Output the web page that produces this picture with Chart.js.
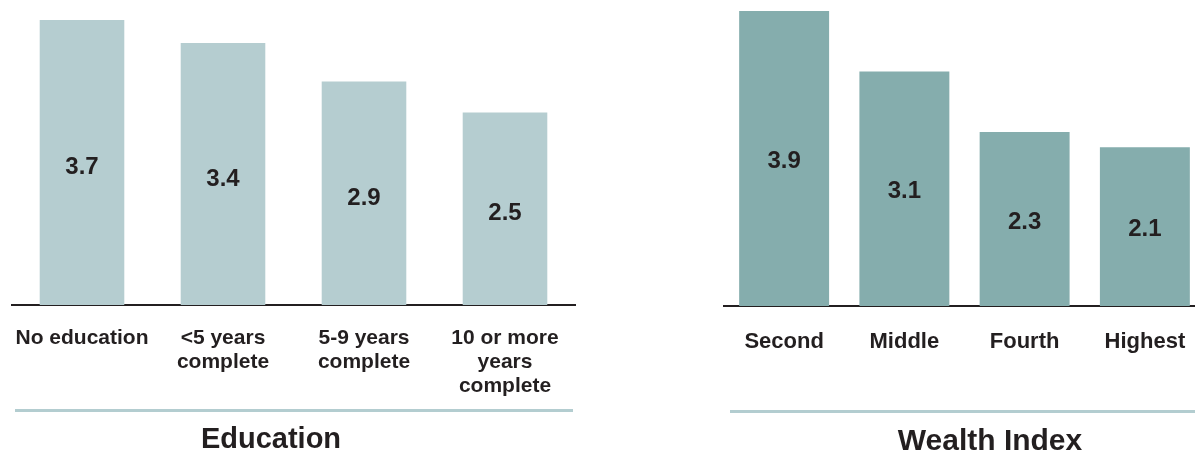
<!DOCTYPE html>
<html>
<head>
  <meta charset="utf-8">
  <title>Education and Wealth Index</title>
  <script src="https://cdn.jsdelivr.net/npm/chart.js@4"></script>
  <style>
    html, body { margin: 0; padding: 0; background: #fff; overflow: hidden; width: 1195px; height: 455px; }
    .panel { position: absolute; top: 0; }
    .rule { position: absolute; height: 3px; background: #b3cdd0; }
    .title { position: absolute; text-align: center; font-family: "Liberation Sans", Arial, sans-serif; font-weight: bold; color: #231f20; line-height: 30px; }
  </style>
</head>
<body>
  <div class="panel" style="left:0"><canvas id="eduChart" width="590" height="455"></canvas></div>
  <div class="panel" style="left:700px"><canvas id="wealthChart" width="510" height="455"></canvas></div>

  <div class="rule" style="left:15px; width:558px; top:409px"></div>
  <div class="rule" style="left:730px; width:465px; top:410px"></div>
  <div class="title" style="left:121px; width:300px; top:423px; font-size:29px">Education</div>
  <div class="title" style="left:840px; width:300px; top:425px; font-size:30px">Wealth Index</div>

  <script>
    const FONT = '"Liberation Sans", Arial, sans-serif';
    const INK = '#231f20';

    // left panel
    const eduLabels = ['No education', ['<5 years', 'complete'], ['5-9 years', 'complete'], ['10 or more', 'years', 'complete']];
    const eduValues = [3.7, 3.4, 2.9, 2.5];

    // right panel
    const wealthLabels = ['Second', 'Middle', 'Fourth', 'Highest'];
    const wealthValues = [3.9, 3.1, 2.3, 2.1];

    // value printed in the middle of each bar
    const valueLabels = {
      id: 'valueLabels',
      afterDatasetsDraw(chart, args, opts) {
        const { ctx } = chart;
        const values = chart.data.datasets[0].data;
        ctx.save();
        ctx.font = `bold ${opts.size}px ${FONT}`;
        ctx.fillStyle = INK;
        ctx.textAlign = 'center';
        ctx.textBaseline = 'middle';
        chart.getDatasetMeta(0).data.forEach((bar, i) => {
          ctx.fillText(values[i].toFixed(1), bar.x, (bar.y + bar.base) / 2 + opts.dy);
        });
        ctx.restore();
      }
    };

    const makeChart = (id, labels, values, cfg) => new Chart(document.getElementById(id), {
      type: 'bar',
      data: {
        labels,
        datasets: [{
          data: values,
          backgroundColor: cfg.color,
          categoryPercentage: 1,
          barPercentage: cfg.barPct
        }]
      },
      options: {
        responsive: false,
        animation: false,
        layout: { padding: cfg.padding },
        plugins: {
          legend: { display: false },
          tooltip: { enabled: false },
          valueLabels: { size: cfg.valueSize, dy: cfg.valueDy }
        },
        scales: {
          x: {
            grid: { display: false, drawTicks: false },
            border: { display: true, color: INK, width: 2 },
            ticks: {
              color: INK,
              padding: cfg.tickPad,
              maxRotation: 0,
              autoSkip: false,
              font: { family: FONT, size: cfg.tickSize, weight: 'bold', lineHeight: 24 / cfg.tickSize }
            },
            // fixed axis band, and no extra room for wide end labels
            afterFit(scale) {
              scale.height = cfg.axisHeight;
              scale.paddingLeft = 0;
              scale.paddingRight = 0;
            }
          },
          y: { display: false, min: 0, max: cfg.max }
        }
      },
      plugins: [valueLabels]
    });

    makeChart('eduChart', eduLabels, eduValues, {
      color: '#b5cdd0',
      barPct: 0.6,
      padding: { top: 20, left: 11.5, right: 14.5, bottom: 0 },
      max: 3.7,
      axisHeight: 150,
      tickPad: 21,
      tickSize: 21,
      valueSize: 24,
      valueDy: 5
    });

    makeChart('wealthChart', wealthLabels, wealthValues, {
      color: '#85adad',
      barPct: 0.748,
      padding: { top: 11, left: 24, right: 5, bottom: 0 },
      max: 3.9,
      axisHeight: 149,
      tickPad: 24,
      tickSize: 22,
      valueSize: 24,
      valueDy: 3
    });
  </script>
</body>
</html>
